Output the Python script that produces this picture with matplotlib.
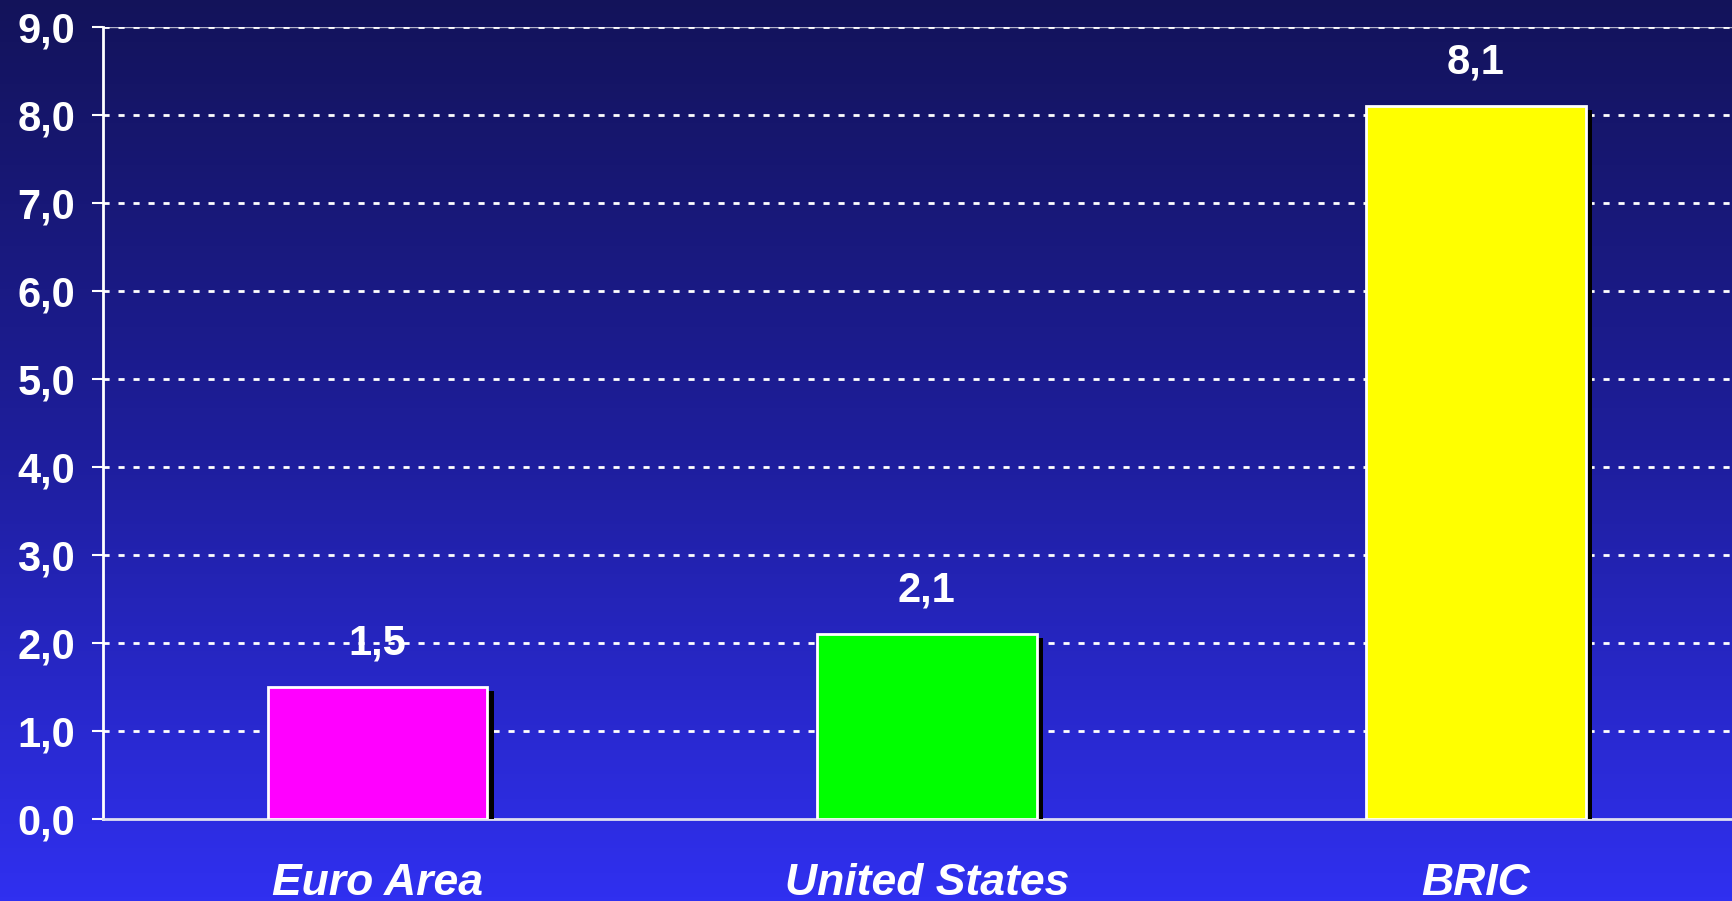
import numpy as np
import matplotlib.pyplot as plt
import matplotlib.patheffects as pe
from matplotlib.colors import LinearSegmentedColormap

regions = ['Euro Area', 'United States', 'BRIC']
growth = [1.5, 2.1, 8.1]
bar_colors = ['#ff00ff', '#00ff00', '#ffff00']
y_ticks = np.arange(0, 10, 1.0)

plt.rcParams['font.family'] = ['Liberation Sans', 'DejaVu Sans']
plt.rcParams['font.weight'] = 'bold'

fig = plt.figure(figsize=(17.33, 9.01), dpi=100)

# background: vertical gradient, dark navy at the top to bright blue at the bottom
bg = fig.add_axes([0, 0, 1, 1], zorder=-10)
bg_cmap = LinearSegmentedColormap.from_list('bg', ['#13135a', '#1e1e9c', '#3030f0'])
bg.imshow(np.linspace(0, 1, 256).reshape(-1, 1), aspect='auto', cmap=bg_cmap,
          extent=[0, 1, 0, 1], origin='upper')
bg.axis('off')

ax = fig.add_axes([0.0594, 0.091, 0.9406, 0.879])
ax.patch.set_alpha(0)

x = np.arange(len(regions))
bars = ax.bar(x, growth, width=0.4, color=bar_colors, edgecolor='white',
              linewidth=2, zorder=3)
for b in bars:
    b.set_path_effects([pe.SimplePatchShadow(offset=(4.5, -3), shadow_rgbFace='black', alpha=1),
                        pe.Normal()])

for xi, v in zip(x, growth):
    ax.annotate(f'{v:.1f}'.replace('.', ','), (xi, v), xytext=(0, 17),
                textcoords='offset points', ha='center', va='bottom',
                color='white', fontsize=30, fontweight='bold')

ax.set_xlim(-0.5, 2.468)
ax.set_ylim(0, 9)
ax.set_yticks(y_ticks)
ax.set_yticklabels([f'{t:.1f}'.replace('.', ',') for t in y_ticks],
                   color='white', fontsize=30, fontweight='bold')
ax.set_xticks(x)
ax.set_xticklabels(regions, color='white', fontsize=32, fontweight='bold',
                   style='italic')
ax.tick_params(axis='x', length=0, pad=32)
ax.tick_params(axis='y', length=8, width=1.5, color='white', direction='out', pad=12)

for v in y_ticks[1:]:
    ax.axhline(v, color='white', linewidth=2, linestyle=(0, (2.2, 3.2)), zorder=1)
ax.axhline(9, color='#b0b0c8', linewidth=1, zorder=0.9)

for side in ['top', 'right']:
    ax.spines[side].set_visible(False)
ax.spines['left'].set_color('white')
ax.spines['left'].set_linewidth(2)
ax.spines['bottom'].set_color('#e0e0f0')
ax.spines['bottom'].set_linewidth(2)

fig.savefig('out.png', dpi=100)
